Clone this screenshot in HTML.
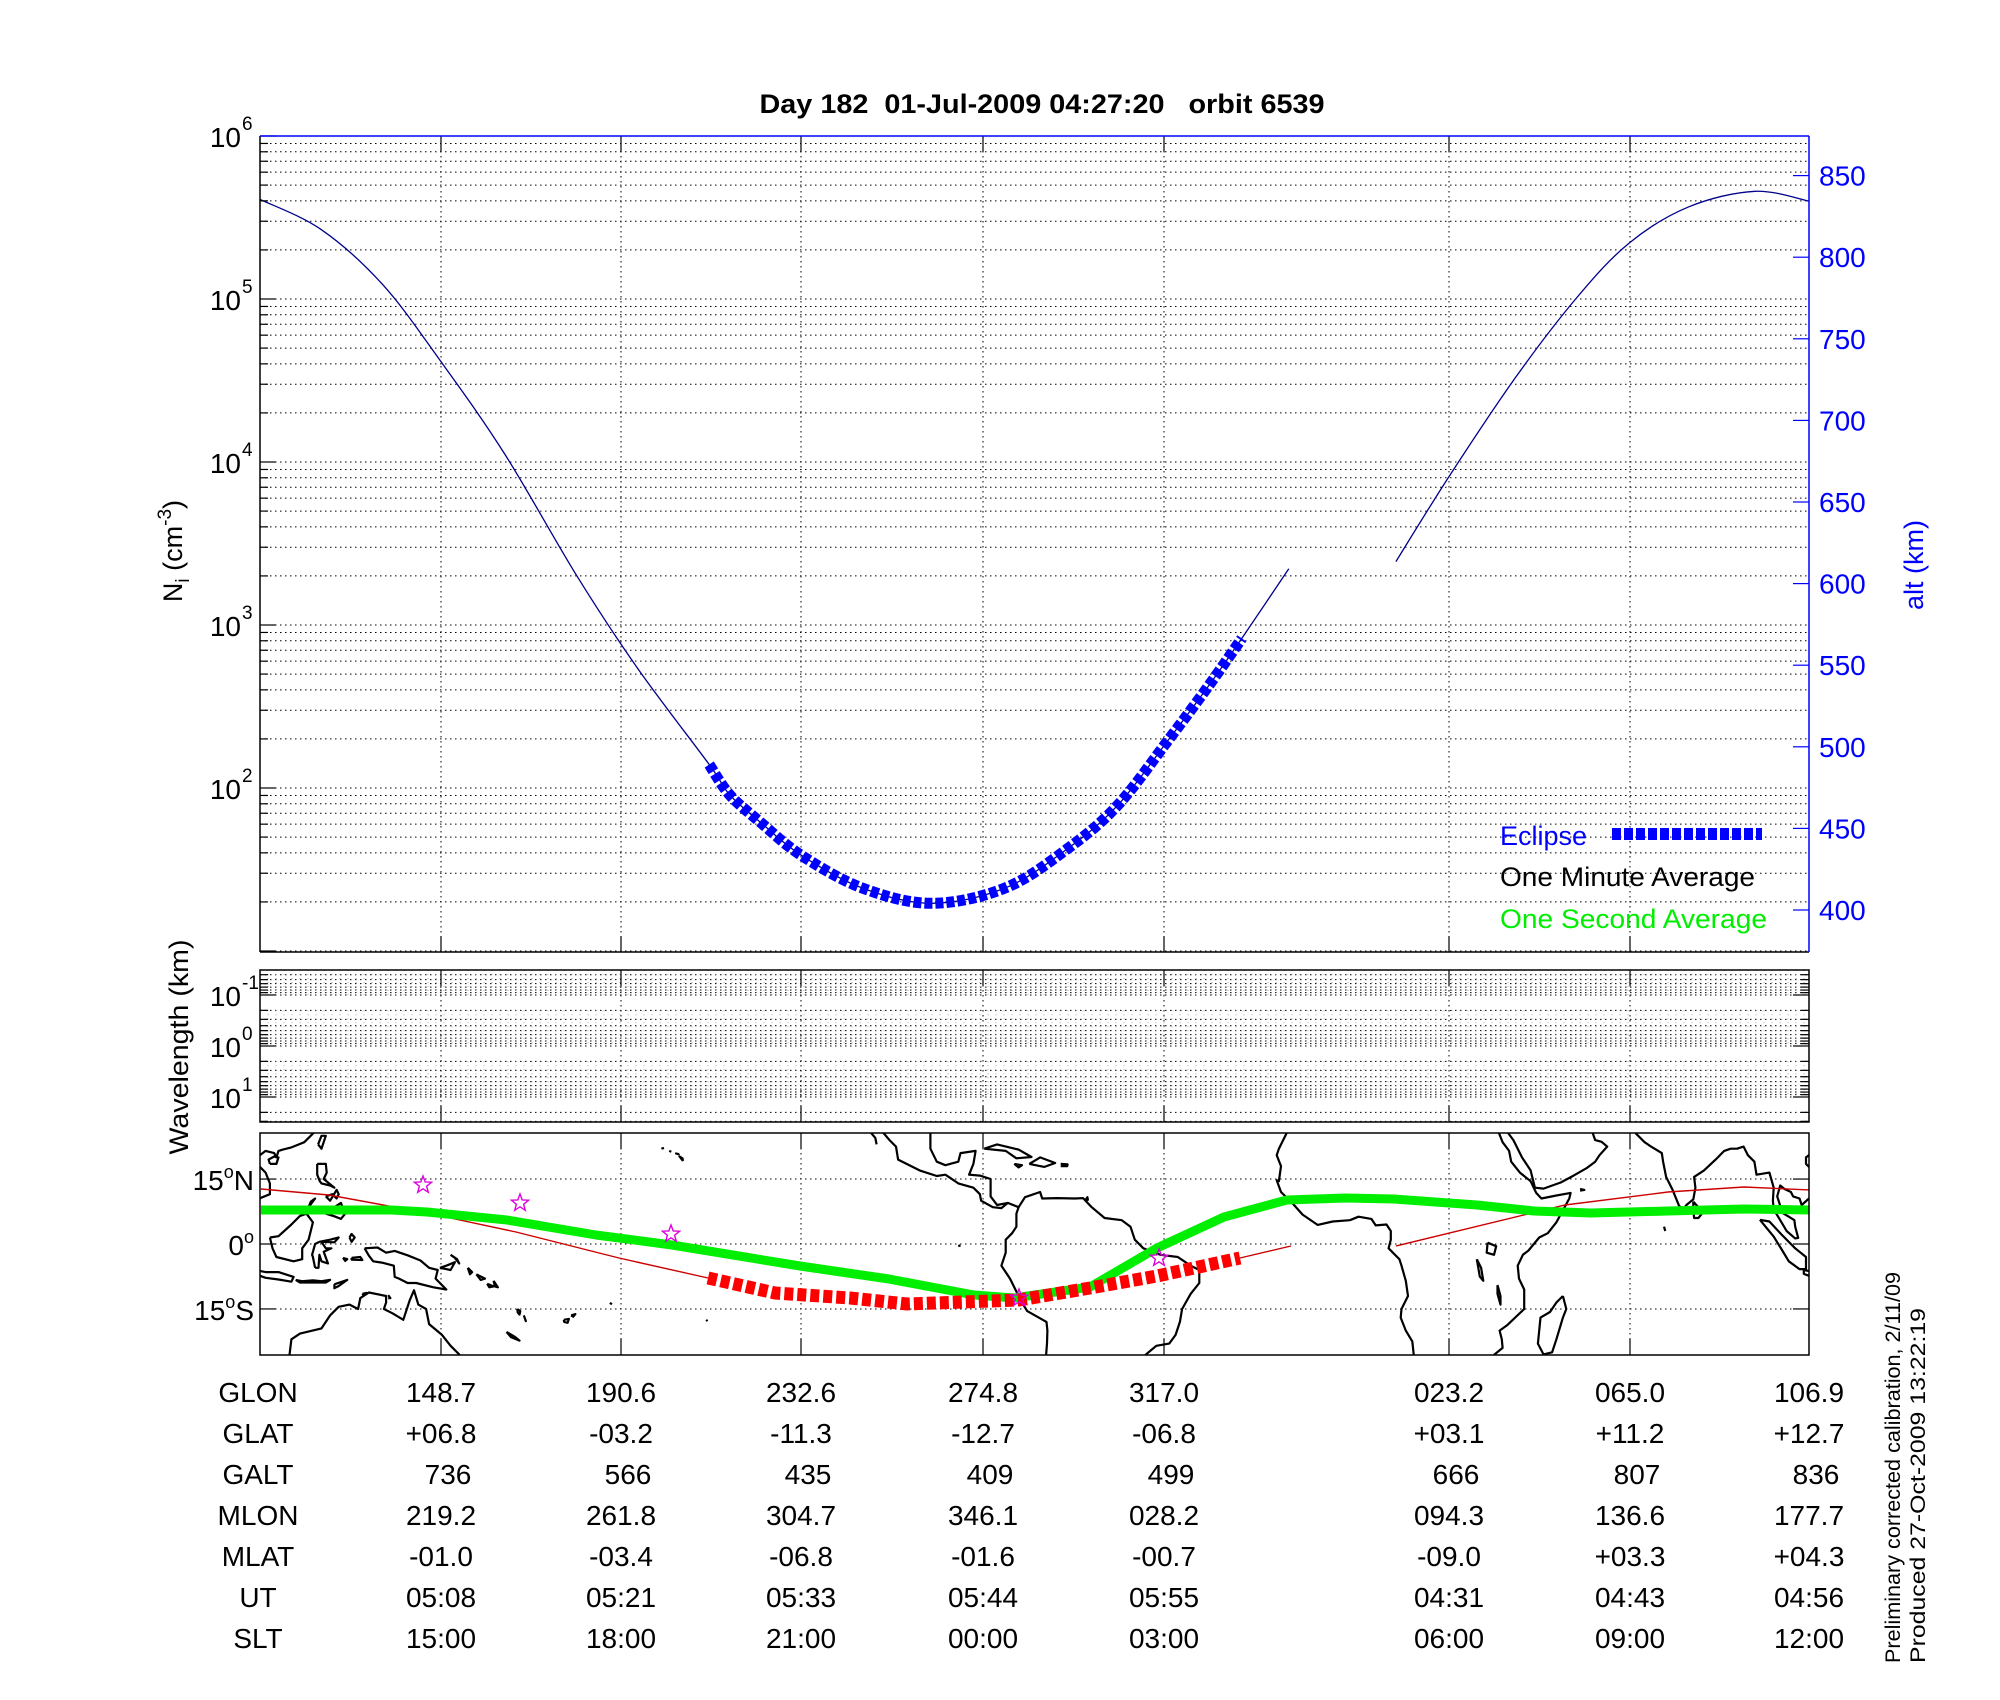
<!DOCTYPE html>
<html><head><meta charset="utf-8">
<style>
html,body{margin:0;padding:0;background:#fff;}
svg{display:block;font-family:"Liberation Sans",Arial,sans-serif;}
</style></head>
<body>
<svg id="s" width="2000" height="1700" viewBox="0 0 2000 1700" xmlns="http://www.w3.org/2000/svg">
<rect width="2000" height="1700" fill="#fff"/>
<defs>
<clipPath id="mapclip"><rect x="260" y="1133" width="1549" height="222"/></clipPath>
<clipPath id="mainclip"><rect x="260" y="136" width="1549" height="816"/></clipPath>
</defs>
<g id="grid"></g>
<g id="mapg" clip-path="url(#mapclip)"></g>
<g id="mainc" clip-path="url(#mainclip)"></g>
<g id="ax"></g>
<text x="1042" y="113" font-size="27" font-weight="bold" text-anchor="middle" style="white-space:pre" textLength="565" lengthAdjust="spacingAndGlyphs">Day 182  01-Jul-2009 04:27:20   orbit 6539</text>
<text transform="translate(182,551) rotate(-90)" font-size="27" text-anchor="middle">N<tspan font-size="19" dy="7">i</tspan><tspan dy="-7"> (cm</tspan><tspan font-size="19" dy="-11">-3</tspan><tspan dy="11">)</tspan></text>
<text transform="translate(1923,565) rotate(-90)" font-size="27" fill="#0000ff" text-anchor="middle">alt (km)</text>
<text transform="translate(188,1047) rotate(-90)" font-size="27" text-anchor="middle" textLength="215" lengthAdjust="spacingAndGlyphs">Wavelength (km)</text>
<text transform="translate(1900,1663) rotate(-90)" font-size="21" textLength="391" lengthAdjust="spacingAndGlyphs">Preliminary corrected calibration, 2/11/09</text>
<text transform="translate(1925,1663) rotate(-90)" font-size="21" textLength="355" lengthAdjust="spacingAndGlyphs">Produced 27-Oct-2009 13:22:19</text>
<text x="1500" y="845" font-size="27" fill="#0000ff">Eclipse</text>
<text x="1500" y="886" font-size="27" fill="#000" textLength="255" lengthAdjust="spacingAndGlyphs">One Minute Average</text>
<text x="1500" y="928" font-size="27" fill="#00ee00" textLength="267" lengthAdjust="spacingAndGlyphs">One Second Average</text>
<line x1="1612" y1="834" x2="1762" y2="834" stroke="#0000ff" stroke-width="12" stroke-dasharray="9,3"/>
</svg>
<script>
var NS="http://www.w3.org/2000/svg";
function el(p,t,a,txt){var e=document.createElementNS(NS,t);for(var k in a)e.setAttribute(k,a[k]);if(txt!==undefined)e.textContent=txt;document.getElementById(p).appendChild(e);return e;}
var L=260,R=1809,MT=136,MB=952,DEC=163;
var xt=[441,621,801,983,1164,1449,1630];
var dot={stroke:"#000","stroke-width":1,"stroke-dasharray":"1.5,3.5"};
function line(p,x1,y1,x2,y2,a){var o={x1:x1,y1:y1,x2:x2,y2:y2};for(var k in a)o[k]=a[k];return el(p,"line",o);}
var Y1=MT+5*DEC;
for(var d=0;d<6;d++){var y0=Y1-d*DEC;
 for(var k=1;k<=9;k++){var y=y0-Math.log10(k)*DEC; if(y<MT||y>MB)continue;
  line("grid",L,y,R,y,dot);
  line("ax",L,y,L+(k==1?16:8),y,{stroke:"#000","stroke-width":1.2});}}
xt.forEach(function(x){line("grid",x,MT,x,MB,dot);line("ax",x,MB,x,MB-16,{stroke:"#000","stroke-width":1.2});line("ax",x,MT,x,MT+16,{stroke:"#000","stroke-width":1.2});});
line("ax",L,MT,L,MB,{stroke:"#000","stroke-width":1.5});
line("ax",L,MB,R,MB,{stroke:"#000","stroke-width":1.5});
line("ax",L,MT,R,MT,{stroke:"#0000ff","stroke-width":1.5});
line("ax",R,MT,R,MB,{stroke:"#0000ff","stroke-width":1.5});
for(var i=1;i<6;i++){var y=Y1-i*DEC;
 el("ax","text",{x:241,y:y+11,"font-size":28,"text-anchor":"end"},"10");
 el("ax","text",{x:242,y:y-6,"font-size":19},String(i+1));}
for(var a=400;a<=850;a+=50){var y=910-(a-400)*81.6/50;
 line("ax",R-16,y,R,y,{stroke:"#0000ff","stroke-width":1.2});
 el("ax","text",{x:1819,y:y+10,"font-size":28,fill:"#0000ff"},String(a));}
function ty(y){return y;}
var P1=[[260.2,199.5],[321.4,229.7],[382.7,284.6],[440.8,361.4],[505.1,454.6],[576.5,575.3],[637.8,668.6],[709.2,764.5]];
var E=[[709.2,764.5],[729.6,794.7],[760.2,822.1],[801.0,855.1],[862.2,888.0],[931.6,903.3],[1005.1,888.0],[1066.3,849.6],[1117.3,805.7],[1168.4,739.9],[1209.2,685.0],[1241.8,638.4]];
var P2=[[1241.8,638.4],[1288.8,568.7]];
var P3=[[1395.9,561.6],[1449.0,476.6],[1515.3,377.8],[1576.5,298.0],[1629.6,242.7],[1688.8,206.8],[1755.1,191.3],[1809.2,201.2]];
function smooth(pts){var q=pts.map(function(p){return [p[0],ty(p[1])];});
 var d="M"+q[0][0]+","+q[0][1];
 for(var i=0;i<q.length-1;i++){var p0=q[Math.max(0,i-1)],p1=q[i],p2=q[i+1],p3=q[Math.min(q.length-1,i+2)];
  var c1x=p1[0]+(p2[0]-p0[0])/6,c1y=p1[1]+(p2[1]-p0[1])/6,c2x=p2[0]-(p3[0]-p1[0])/6,c2y=p2[1]-(p3[1]-p1[1])/6;
  d+=" C"+c1x+","+c1y+" "+c2x+","+c2y+" "+p2[0]+","+p2[1];}
 return d;}
el("mainc","path",{d:smooth(P1.concat(E.slice(1)).concat(P2.slice(1))),fill:"none",stroke:"#00008b","stroke-width":1.3});
el("mainc","path",{d:smooth(P3),fill:"none",stroke:"#00008b","stroke-width":1.3});
el("mainc","path",{d:smooth(E),fill:"none",stroke:"#0000ff","stroke-width":11,"stroke-dasharray":"8,3"});
var WT=970,WB=1122,WD=51,W0=1046;
for(var e=-2;e<=1;e++){var yb=W0+e*WD;
 for(var k=1;k<=9;k++){var y=yb+Math.log10(k)*WD; if(y<WT||y>WB)continue;
  line("grid",L,y,R,y,dot); line("ax",L,y,L+(k==1?16:8),y,{stroke:"#000","stroke-width":1.2});
  line("ax",R,y,R-(k==1?16:8),y,{stroke:"#000","stroke-width":1.2});}}
for(var x=L+8;x<R;x+=8){[[WT,W0-WD],[W0-WD*0.7,W0],[W0+WD*0.3,W0+WD]].forEach(function(b){line("grid",x,b[0],x,b[1],{stroke:"#999","stroke-width":0.8,"stroke-dasharray":"1,3"});});}
xt.forEach(function(x){line("grid",x,WT,x,WB,dot);line("ax",x,WB,x,WB-16,{stroke:"#000","stroke-width":1.2});line("ax",x,WT,x,WT+16,{stroke:"#000","stroke-width":1.2});});
el("ax","rect",{x:L,y:WT,width:R-L,height:WB-WT,fill:"none",stroke:"#000","stroke-width":1.5});
[["-1",W0-WD],["0",W0],["1",W0+WD]].forEach(function(v){el("ax","text",{x:241,y:v[1]+11,"font-size":28,"text-anchor":"end"},"10");el("ax","text",{x:242,y:v[1]-6,"font-size":19},v[0]);});
var MPT=1133,MPB=1355,LAT0=1244,PD=4.33,PX=1549/360;
[15,0,-15].forEach(function(l){var y=LAT0-l*PD;line("grid",L,y,R,y,dot);line("ax",L,y,L+16,y,{stroke:"#000","stroke-width":1.2});line("ax",R,y,R-16,y,{stroke:"#000","stroke-width":1.2});});
xt.forEach(function(x){line("grid",x,MPT,x,MPB,dot);line("ax",x,MPB,x,MPB-16,{stroke:"#000","stroke-width":1.2});line("ax",x,MPT,x,MPT+16,{stroke:"#000","stroke-width":1.2});});
[["15","N",15],["0","",0],["15","S",-15]].forEach(function(v){var y=LAT0-v[2]*PD+11;
 var t=el("ax","text",{x:254,y:y,"font-size":28,"text-anchor":"end"});
 var a=document.createElementNS(NS,"tspan");a.textContent=v[0];t.appendChild(a);
 var b=document.createElementNS(NS,"tspan");b.setAttribute("font-size","18");b.setAttribute("dy","-12");b.textContent="o";t.appendChild(b);
 var c=document.createElementNS(NS,"tspan");c.setAttribute("dy","12");c.textContent=v[1];t.appendChild(c);});
function mx(lon){return L+(lon-106.7)*PX;}
function my(lat){return LAT0-lat*PD;}
var coasts=[
[[-77,8.5],[-75.5,10.8],[-72,12],[-71.5,10.5],[-68,10.6],[-64,10.5],[-62,10.6],[-60,8.5],[-57,6],[-53,5.5],[-51,4],[-50,1],[-48,-1],[-44,-2.5],[-40,-3],[-37,-5],[-35,-6],[-35,-9],[-37,-11.5],[-39,-15],[-39.5,-18],[-40.5,-21],[-42,-23],[-45,-23.5],[-48,-26],[-48.5,-28]],
[[-70.8,-28],[-70.4,-23],[-70.3,-20],[-70.5,-18],[-75,-15.5],[-76.5,-13],[-79,-8],[-81,-5],[-80,-2],[-80,1],[-78.5,2.5],[-77.5,4],[-77.5,7],[-77,8.5],[-79.5,9.5],[-81,8.3],[-83,8.5],[-85.7,10],[-86,11.5],[-87.5,13],[-91,14],[-94,16],[-96,15.7],[-100,17],[-105,19.5],[-105.5,22.5],[-107,24],[-110,27.5]],
[[-97.5,28],[-97.5,22],[-96,19],[-94,18.2],[-91,19],[-90.5,21],[-87,21.5],[-87.5,18.5],[-88.5,16],[-86,15.8],[-83.5,15],[-83.5,11],[-82,9],[-79.5,9.5]],
[[-110,23],[-110.3,24.5],[-112,26.5],[-113,28]],
[[-85,22],[-82,23],[-77,21.8],[-74,20.1],[-77.5,19.8],[-80,21.5],[-85,22]],
[[-74.5,18.5],[-72,20],[-68.5,18.7],[-71,17.8],[-74.5,18.5]],
[[-67.2,18.5],[-65.6,18.4],[-65.7,18],[-67.2,18]],
[[-78,18.5],[-76.2,18.2],[-77,17.7],[-78,18.5]],
[[-14.5,28],[-14.5,26],[-16.5,22],[-17,20.5],[-16,18],[-16.5,14.5],[-17,14.7],[-16,12],[-15,11],[-13,9],[-11,6.8],[-7.5,4.4],[-4,5.2],[0,5.5],[2,6.3],[5,5.8],[6,4.3],[8.5,4.5],[9.5,3],[9.5,1],[9,-1],[11.5,-3.5],[12,-5],[13,-8.5],[13.5,-12],[12,-15],[11.8,-17],[13,-20],[14.5,-22.5],[15,-27]],
[[32.5,-28],[33,-26],[35.5,-24],[35.3,-22],[34.8,-20],[36.5,-18.8],[40.5,-15],[40.5,-10.5],[39.3,-8],[39,-5],[40.2,-2.5],[41.5,-1.5],[44,1.5],[46,2.5],[48,5],[51,10.5],[51.3,11.8],[48,11.2],[44.5,10.5],[43.3,11.8],[42,14.5],[39.5,16.5],[37.5,19],[37,21.5],[35.5,23.5],[34.5,26],[33,28]],
[[35,28],[36.5,26],[38,24],[39,22],[40,20],[42,17],[43,13],[45,12.8],[49,14.2],[52,15.8],[55,17.5],[57,19],[58,20.5],[59.8,22.5],[58.5,23.6],[57,24],[56.3,26],[56,27]],
[[49.5,-12],[50.3,-15],[49.5,-17],[48,-22],[47,-25],[45,-25.5],[43.7,-23],[44,-20],[44.3,-17],[46.5,-15.7],[48,-13.5],[49.5,-12]],
[[32,0.3],[34,-0.5],[33.5,-2.5],[31.8,-2],[32,0.3]],
[[29.5,-3.5],[30.5,-5.5],[31,-8.5],[30.2,-7.5],[29.5,-3.5]],
[[34.3,-9.5],[35,-12],[35,-14],[34.3,-11.5],[34.3,-9.5]],
[[53.5,12.7],[54.5,12.5],[53.5,12.3]],
[[66.5,27],[66.5,25.5],[68.5,23.5],[70,22.5],[72.5,21],[72.8,19],[73.5,15.5],[75,12.5],[76.5,8.8],[77.5,8],[78.2,9],[79.8,10.3],[80.3,13],[80,15.5],[82.3,17],[85,19.5],[87,21.5],[88.5,22],[90,22],[91.5,22.5],[92.5,20.5],[94,19],[94.5,16],[97.5,16.5],[98.5,13],[98.3,10],[98.5,8],[100.3,5],[101.5,3],[103.5,1.3],[104.2,1.4],[103.5,4],[103.3,5.5],[102,6.3],[100.5,7.2],[99.8,9.5],[99.3,11],[100,13.5],[101,12.7],[102.5,12],[103,11],[104.5,10.5],[105,9],[106.7,10.5],[107,10.7],[109,11.5],[109,14],[108,16.5],[106,18.5],[106,20],[108,21.5],[110,21],[110.5,20],[111,21.5],[112,21.8],[114,22.3],[117,23.5],[119.5,26],[120,28]],
[[109,18.5],[110.5,18.5],[111,20],[110,20.2],[108.7,19.5],[109,18.5]],
[[79.8,9.8],[81,8.5],[81.8,7],[81,6],[80,6],[79.8,8],[79.8,9.8]],
[[95.3,5.6],[97.5,5.2],[100.3,2.2],[103.5,-1],[106,-3],[106,-5.8],[104.5,-5.8],[102,-4],[100.5,-1.5],[98.5,1.7],[95.3,5.6]],
[[109,1.5],[109.6,-1],[110.5,-3],[114.5,-4],[116.5,-3.5],[116.5,-1],[118,1],[119,5],[117.5,7],[116,6.5],[114,4.5],[111,1.8],[109,1.5]],
[[105.5,-6],[108,-6.5],[111,-6.5],[114.5,-7.6],[114,-8.7],[111,-8.2],[108,-7.8],[105.5,-6.9],[105.5,-6]],
[[115,-8.3],[116.5,-8.6],[119,-8.4],[121,-8.6],[123,-8.3],[122,-8.9],[119,-8.9],[116,-8.9],[115,-8.3]],
[[124,-9.3],[127,-8.3],[125,-9.7],[124,-10.2],[124,-9.3]],
[[119.5,-5.5],[119,-3],[118.8,-2.5],[119.5,0],[120.5,0.5],[123,1],[125,1.5],[124,0.4],[121,0.5],[122,-1],[123.3,-1],[121.5,-1.8],[122.5,-4.5],[121,-4],[120.5,-2.5],[120.3,-5.5],[119.5,-5.5]],
[[127.5,1.5],[128,0.5],[128.7,1.5],[128,2.3],[127.5,1.5]],
[[126,-3.2],[127,-3.5],[126.5,-3.9],[126,-3.2]],
[[128,-3.2],[130,-3],[130.5,-3.7],[128,-3.6],[128,-3.2]],
[[120,18.5],[122,18.5],[122.2,16.5],[121.5,15],[124,13],[123,13.5],[121,14],[120.6,14.5],[120,16],[120,18.5]],
[[122,7],[124,8.5],[125.5,9.5],[126.5,7],[125.5,5.8],[124,6.4],[122,7]],
[[122,11],[123.5,11.5],[124.5,10.5],[125,11.5],[124.5,12.5],[123,10],[122,11]],
[[118,8.5],[119.5,10.5],[118.5,9.8],[118,8.5]],
[[120.2,23],[121,25],[122,25],[121,22],[120.2,23]],
[[131,-1],[134,-0.8],[136,-2],[138,-1.6],[141,-2.6],[144,-3.8],[146,-5.5],[148,-6],[147.5,-8],[150,-10.5],[147,-10],[143,-9],[141,-9],[139,-8],[138,-7.6],[137.8,-5],[135,-4.3],[133,-4],[132,-2.7],[131,-1]],
[[148.5,-5.5],[150,-5],[152,-4.2],[151,-6],[148.5,-5.5]],
[[151,-2.5],[152.5,-3.5],[153,-4.5],[152,-3.2],[151,-2.5]],
[[155,-5.5],[156,-6.5],[155.5,-7],[155,-5.5]],
[[157,-7],[159,-8],[158,-8.3],[157,-7]],
[[159.5,-9.2],[161,-9.8],[160,-10],[159.5,-9.2]],
[[161,-8.5],[162,-10],[161.3,-9.8],[161,-8.5]],
[[113.5,-27],[113.5,-26],[114,-22],[116,-20.7],[121,-19.5],[123,-16.5],[125,-14.5],[127.5,-14],[129.5,-15],[130,-12.5],[132,-11.2],[136,-12],[136,-13.5],[135.5,-15],[137.5,-16],[140,-17.5],[141.5,-13],[142.5,-10.7],[143.5,-14],[145.3,-15],[146,-18.5],[149,-21],[151,-23.5],[153,-25.5],[153.5,-28]],
[[130.5,-11.5],[131.5,-11.3],[130.8,-11.9],[130.5,-11.5]],
[[136.5,-11.8],[137,-12.5],[136.5,-12.5]],
[[164,-20.3],[166,-21.5],[167,-22.3],[165,-21.5],[164,-20.3]],
[[166.5,-15],[167.2,-15.5],[167,-16.3],[166.6,-15.8],[166.5,-15]],
[[168,-16.5],[168.5,-17.8],[168.3,-17.5]],
[[177.3,-17.5],[178.5,-17.3],[178.2,-18.2],[177.4,-18],[177.3,-17.5]],
[[179,-16.5],[180,-16.2],[179.5,-16.8],[179,-16.5]],
[[-155,19.2],[-155.8,20.2],[-155.1,19.8],[-155,19.2]],
[[-156.8,21],[-156,20.7],[-156.3,20.9]],
[[-158.2,21.5],[-157.7,21.3]],
[[-160,22],[-159.4,22.2]],
[[-172,-13.6],[-171.5,-13.9]],
[[-149.6,-17.5],[-149.3,-17.8]],
[[73,4],[73.3,3]],
[[-61.5,10.1],[-61,10.8],[-60.9,10.2],[-61.5,10.1]],
[[-91,-0.5],[-90.5,-0.3]]
];
coasts.forEach(function(pts){
 var base=pts[0][0]; while(base<106.7)base+=360; var off=base-pts[0][0];
 var arr=[],prev=null;
 pts.forEach(function(p){var lon=p[0]+off; if(prev!==null){while(lon-prev>180)lon-=360;while(prev-lon>180)lon+=360;} prev=lon; arr.push([mx(lon),my(p[1])]);});
 [-1549,0,1549].forEach(function(sh){
  el("mapg","polyline",{points:arr.map(function(q){return (q[0]+sh).toFixed(1)+","+q[1].toFixed(1);}).join(" "),fill:"none",stroke:"#000","stroke-width":2.2,"stroke-linejoin":"round"});});
});
function pl(pts,attr){attr.points=pts.map(function(p){return p[0]+","+p[1];}).join(" ");attr.fill="none";return el("mapg","polyline",attr);}
pl([[261,1189],[329,1195],[427,1213],[516,1232],[619,1258],[708,1278]],{stroke:"#cc0000","stroke-width":1.4});
pl([[1240,1258],[1291,1246]],{stroke:"#cc0000","stroke-width":1.4});
pl([[1396,1246],[1565,1205],[1668,1192],[1744,1187],[1810,1190]],{stroke:"#cc0000","stroke-width":1.4});
pl([[261,1210],[391,1210],[427,1212],[507,1220],[596,1235],[672,1245],[800,1266],[889,1279],[974,1295],[1014,1298],[1090,1287],[1157,1248],[1224,1217],[1287,1200],[1345,1198],[1394,1199],[1477,1205],[1534,1211],[1591,1213],[1668,1211],[1744,1209],[1810,1210]],{stroke:"#00ee00","stroke-width":9,"stroke-linejoin":"round"});
pl([[708,1278],[775,1293],[850,1298],[907,1304],[1019,1300],[1090,1288],[1157,1276],[1240,1258]],{stroke:"#ff0000","stroke-width":13,"stroke-dasharray":"9,4"});
function star(cx,cy){var r=9,ri=3.8,pts=[];for(var i=0;i<10;i++){var a=-Math.PI/2+i*Math.PI/5,rr=i%2?ri:r;pts.push((cx+rr*Math.cos(a)).toFixed(1)+","+(cy+rr*Math.sin(a)).toFixed(1));}
 el("mapg","polygon",{points:pts.join(" "),fill:"none",stroke:"#dd00dd","stroke-width":1.4});}
star(423,1185);star(520,1203);star(671,1234);star(1159,1258);star(1019,1298);
el("ax","rect",{x:L,y:MPT,width:R-L,height:MPB-MPT,fill:"none",stroke:"#000","stroke-width":1.5});
var rows=[["GLON",["148.7","190.6","232.6","274.8","317.0","023.2","065.0","106.9"]],
["GLAT",["+06.8","-03.2","-11.3","-12.7","-06.8","+03.1","+11.2","+12.7"]],
["GALT",[" 736"," 566"," 435"," 409"," 499"," 666"," 807"," 836"]],
["MLON",["219.2","261.8","304.7","346.1","028.2","094.3","136.6","177.7"]],
["MLAT",["-01.0","-03.4","-06.8","-01.6","-00.7","-09.0","+03.3","+04.3"]],
["UT",["05:08","05:21","05:33","05:44","05:55","04:31","04:43","04:56"]],
["SLT",["15:00","18:00","21:00","00:00","03:00","06:00","09:00","12:00"]]];
var cols=[441,621,801,983,1164,1449,1630,1809];
rows.forEach(function(r,i){var y=1402+i*41;
 el("ax","text",{x:258,y:y,"font-size":28,"text-anchor":"middle"},r[0]);
 r[1].forEach(function(v,j){el("ax","text",{x:cols[j]+(v.charAt(0)==" "?7:0),y:y,"font-size":28,"text-anchor":"middle"},v.trim());});
});
</script>
</body></html>
